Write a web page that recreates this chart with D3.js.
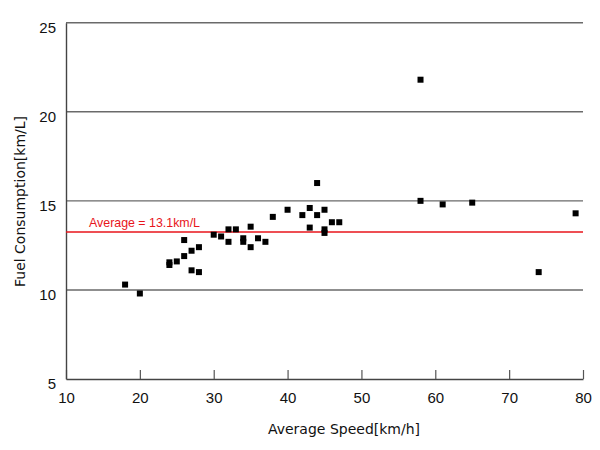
<!DOCTYPE html>
<html><head><meta charset="utf-8">
<script src="https://cdn.jsdelivr.net/npm/d3@7"></script>
<style>body{margin:0;background:#fff}svg{display:block}text{font-family:"Liberation Sans",Arial,sans-serif}</style>
</head><body><svg id="c" width="600" height="450"></svg>
<script>
const speed = [18,20,24,24,25,26,26,27,27,28,28,30,31,32,32,33,34,34,35,35,36,37,38,40,42,43,43,44,44,45,45,45,46,47,58,58,61,65,74,79];
const fuel  = [10.3,9.8,11.55,11.4,11.6,12.8,11.9,12.2,11.1,12.4,11.0,13.1,13.0,13.4,12.7,13.4,12.9,12.7,13.55,12.4,12.9,12.7,14.1,14.5,14.2,14.6,13.5,16.0,14.2,14.5,13.4,13.2,13.8,13.8,21.8,15.0,14.8,14.9,11.0,14.3];
const xTicks = [10,20,30,40,50,60,70,80];
const yTicks = [5,10,15,20,25];
const averageValue = 13.25;
const averageLabel = "Average = 13.1km/L";
const xTitle = "Average Speed[km/h]";
const yTitle = "Fuel Consumption[km/L]";

const svg = d3.select("#c");
const L = 66, R = 583, T = 22.7, B = 379;
const x = d3.scaleLinear().domain([10,80]).range([L,R]);
const y = d3.scaleLinear().domain([5,25]).range([B,T]);

// gridlines
svg.append("g").selectAll("line").data(yTicks.filter(v=>v>5)).join("line")
  .attr("x1",L).attr("x2",R).attr("y1",d=>y(d)).attr("y2",d=>y(d))
  .attr("stroke","#6a6a6a").attr("stroke-width",1.4);

// x axis
const xa = svg.append("g").attr("transform",`translate(0,${B})`)
  .call(d3.axisBottom(x).tickValues(xTicks).tickSizeInner(-9).tickSizeOuter(0).tickFormat(d3.format("d")));
xa.select(".domain").attr("stroke","#444").attr("stroke-width",1.4);
xa.selectAll(".tick line").attr("stroke","#555").attr("stroke-width",1.2);
xa.selectAll("text").attr("font-size",15).attr("fill","#111").attr("y",13).attr("dy","0.71em");

// y axis
const ya = svg.append("g").attr("transform",`translate(${L},0)`)
  .call(d3.axisLeft(y).tickValues(yTicks).tickSize(0).tickFormat(d3.format("d")));
ya.select(".domain").attr("stroke","#444").attr("stroke-width",1.4);
ya.selectAll("text").attr("font-size",15).attr("fill","#111").attr("x",-10).attr("dy","0.62em");

// average line
svg.append("line").attr("x1",L).attr("x2",R).attr("y1",y(averageValue)).attr("y2",y(averageValue))
  .attr("stroke","#e8151b").attr("stroke-width",1.6);
svg.append("text").attr("x",89).attr("y",y(averageValue)-5).attr("fill","#e8151b")
  .attr("font-size",12.4).text(averageLabel);

// points
svg.append("g").selectAll("rect").data(speed.map((s,i)=>[s,fuel[i]])).join("rect")
  .attr("x",d=>x(d[0])-3).attr("y",d=>y(d[1])-3).attr("width",6).attr("height",6).attr("fill","#000");

// titles
svg.append("text").attr("x",344).attr("y",434).attr("text-anchor","middle")
  .style("font-family","'DejaVu Sans',sans-serif")
  .attr("font-size",14).attr("fill","#111").text(xTitle);
svg.append("text").attr("transform",`translate(24.5,201.5) rotate(-90)`).attr("text-anchor","middle")
  .style("font-family","'DejaVu Sans',sans-serif")
  .attr("font-size",14).attr("fill","#111").text(yTitle);
</script></body></html>
